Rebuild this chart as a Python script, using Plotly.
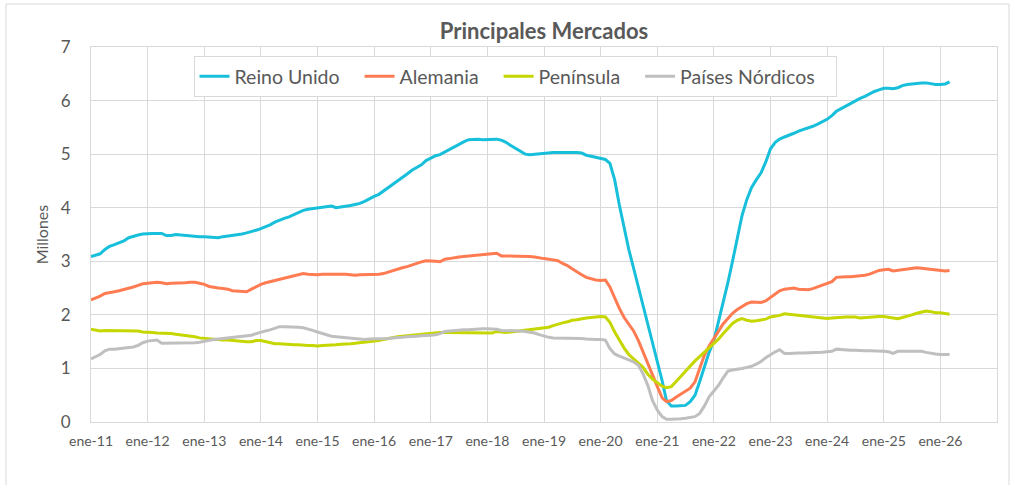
import pandas as pd
import plotly.graph_objects as go

# Monthly series, Jan 2011 .. Mar 2026 (millions)
months = pd.date_range("2011-01-01", periods=183, freq="MS")

reino_unido = [
    3.09, 3.11, 3.14, 3.22, 3.28, 3.31, 3.34, 3.38, 3.44, 3.47, 3.49, 3.51,
    3.52, 3.52, 3.52, 3.52, 3.48, 3.48, 3.50, 3.49, 3.48, 3.47, 3.47, 3.46,
    3.46, 3.45, 3.44, 3.44, 3.46, 3.47, 3.48, 3.49, 3.51, 3.53, 3.55, 3.58,
    3.61, 3.64, 3.68, 3.73, 3.77, 3.80, 3.83, 3.87, 3.91, 3.95, 3.97, 3.98,
    3.99, 4.00, 4.01, 4.03, 4.00, 4.01, 4.02, 4.04, 4.06, 4.08, 4.12, 4.17,
    4.21, 4.25, 4.31, 4.37, 4.43, 4.49, 4.56, 4.63, 4.70, 4.75, 4.80, 4.88,
    4.93, 4.97, 4.99, 5.04, 5.09, 5.14, 5.19, 5.23, 5.27, 5.28, 5.28, 5.27,
    5.27, 5.27, 5.28, 5.26, 5.22, 5.16, 5.11, 5.05, 5.00, 4.99, 5.00, 5.01,
    5.02, 5.02, 5.03, 5.03, 5.03, 5.04, 5.03, 5.03, 5.02, 4.98, 4.96, 4.94,
    4.93, 4.90, 4.83, 4.52, 4.05, 3.62, 3.22, 2.87, 2.52, 2.17, 1.82, 1.47,
    1.12, 0.77, 0.40, 0.30, 0.30, 0.31, 0.31, 0.38, 0.50, 0.75, 1.02, 1.30,
    1.52, 1.88, 2.20, 2.60, 3.00, 3.45, 3.85, 4.15, 4.38, 4.52, 4.65, 4.85,
    5.10, 5.22, 5.28, 5.32, 5.35, 5.39, 5.43, 5.46, 5.48, 5.52, 5.56, 5.61,
    5.65, 5.72, 5.80, 5.85, 5.90, 5.95, 5.99, 6.04, 6.08, 6.13, 6.17, 6.20,
    6.23, 6.23, 6.22, 6.24, 6.28, 6.30, 6.31, 6.33, 6.33, 6.33, 6.31, 6.30,
    6.30, 6.31, 6.35,
]

alemania = [
    2.28, 2.31, 2.35, 2.40, 2.41, 2.43, 2.45, 2.47, 2.50, 2.52, 2.55, 2.58,
    2.59, 2.60, 2.61, 2.60, 2.58, 2.59, 2.59, 2.60, 2.60, 2.61, 2.61, 2.59,
    2.57, 2.53, 2.51, 2.50, 2.49, 2.48, 2.45, 2.44, 2.43, 2.43, 2.48, 2.53,
    2.57, 2.60, 2.62, 2.64, 2.67, 2.69, 2.71, 2.74, 2.76, 2.77, 2.76, 2.75,
    2.75, 2.76, 2.76, 2.76, 2.77, 2.76, 2.76, 2.75, 2.74, 2.75, 2.75, 2.75,
    2.75, 2.76, 2.77, 2.80, 2.83, 2.85, 2.88, 2.90, 2.93, 2.97, 2.99, 3.01,
    3.01, 3.00, 2.99, 3.04, 3.05, 3.07, 3.08, 3.09, 3.10, 3.11, 3.12, 3.13,
    3.14, 3.15, 3.15, 3.10, 3.10, 3.10, 3.10, 3.10, 3.10, 3.09, 3.08, 3.06,
    3.05, 3.04, 3.03, 3.01, 2.96, 2.92, 2.86, 2.80, 2.75, 2.70, 2.67, 2.65,
    2.64, 2.65, 2.52, 2.30, 2.12, 1.95, 1.82, 1.70, 1.52, 1.32, 1.10, 0.88,
    0.66, 0.45, 0.38, 0.40, 0.46, 0.52, 0.57, 0.63, 0.75, 1.00, 1.25, 1.42,
    1.55, 1.70, 1.83, 1.93, 2.03, 2.10, 2.16, 2.21, 2.24, 2.24, 2.23, 2.26,
    2.33, 2.40, 2.45, 2.48, 2.49, 2.50, 2.48, 2.47, 2.47, 2.49, 2.52, 2.56,
    2.58, 2.62, 2.70, 2.71, 2.71, 2.71, 2.72, 2.72, 2.74, 2.76, 2.79, 2.83,
    2.84, 2.85, 2.82, 2.83, 2.84, 2.85, 2.87, 2.88, 2.87, 2.86, 2.84, 2.83,
    2.82, 2.82, 2.83,
]

peninsula = [
    1.73, 1.72, 1.70, 1.71, 1.71, 1.70, 1.71, 1.71, 1.71, 1.70, 1.70, 1.68,
    1.68, 1.67, 1.66, 1.66, 1.65, 1.65, 1.64, 1.63, 1.62, 1.60, 1.59, 1.57,
    1.56, 1.55, 1.55, 1.54, 1.53, 1.53, 1.52, 1.51, 1.51, 1.50, 1.50, 1.52,
    1.52, 1.50, 1.47, 1.46, 1.46, 1.45, 1.45, 1.44, 1.44, 1.43, 1.43, 1.43,
    1.42, 1.43, 1.43, 1.44, 1.44, 1.45, 1.45, 1.46, 1.47, 1.48, 1.49, 1.49,
    1.50, 1.52, 1.54, 1.56, 1.58, 1.59, 1.60, 1.61, 1.62, 1.63, 1.64, 1.65,
    1.66, 1.66, 1.67, 1.67, 1.67, 1.67, 1.66, 1.66, 1.66, 1.66, 1.66, 1.66,
    1.66, 1.66, 1.69, 1.68, 1.67, 1.68, 1.69, 1.70, 1.71, 1.72, 1.73, 1.74,
    1.75, 1.77, 1.80, 1.83, 1.85, 1.87, 1.90, 1.91, 1.93, 1.94, 1.95, 1.96,
    1.97, 1.96, 1.86, 1.68, 1.52, 1.38, 1.26, 1.17, 1.10, 1.02, 0.89, 0.80,
    0.73, 0.67, 0.64, 0.66, 0.75, 0.85, 0.95, 1.05, 1.14, 1.22, 1.30, 1.38,
    1.46, 1.55, 1.65, 1.75, 1.84, 1.90, 1.93, 1.90, 1.88, 1.89, 1.91, 1.92,
    1.96, 1.97, 1.99, 2.02, 2.01, 2.00, 1.99, 1.98, 1.96, 1.95, 1.94, 1.93,
    1.93, 1.94, 1.95, 1.95, 1.96, 1.96, 1.96, 1.94, 1.95, 1.96, 1.97, 1.97,
    1.97, 1.96, 1.95, 1.93, 1.95, 1.97, 2.00, 2.03, 2.05, 2.07, 2.06, 2.04,
    2.04, 2.03, 2.01,
]

nordicos = [
    1.18, 1.22, 1.26, 1.33, 1.36, 1.36, 1.37, 1.37, 1.38, 1.40, 1.43, 1.48,
    1.51, 1.52, 1.53, 1.47, 1.47, 1.47, 1.47, 1.47, 1.47, 1.48, 1.48, 1.49,
    1.51, 1.52, 1.54, 1.55, 1.56, 1.57, 1.58, 1.59, 1.60, 1.61, 1.62, 1.65,
    1.68, 1.70, 1.72, 1.75, 1.78, 1.78, 1.78, 1.78, 1.77, 1.76, 1.74, 1.71,
    1.68, 1.65, 1.62, 1.60, 1.59, 1.58, 1.58, 1.57, 1.56, 1.55, 1.54, 1.55,
    1.55, 1.56, 1.56, 1.56, 1.57, 1.57, 1.58, 1.59, 1.59, 1.60, 1.61, 1.61,
    1.62, 1.63, 1.65, 1.69, 1.70, 1.70, 1.71, 1.72, 1.72, 1.73, 1.73, 1.74,
    1.74, 1.74, 1.73, 1.71, 1.71, 1.70, 1.70, 1.70, 1.69, 1.68, 1.66, 1.63,
    1.60, 1.58, 1.57, 1.57, 1.57, 1.57, 1.56, 1.56, 1.56, 1.55, 1.54, 1.54,
    1.54, 1.53, 1.37, 1.27, 1.23, 1.20, 1.16, 1.12, 1.06, 0.90, 0.68, 0.40,
    0.22, 0.10, 0.05, 0.05, 0.05, 0.06, 0.07, 0.09, 0.10, 0.16, 0.30, 0.47,
    0.58, 0.69, 0.82, 0.95, 0.97, 0.98, 1.00, 1.02, 1.04, 1.08, 1.13, 1.20,
    1.26, 1.31, 1.35, 1.28, 1.28, 1.29, 1.29, 1.29, 1.29, 1.29, 1.29, 1.30,
    1.31, 1.32, 1.36, 1.35, 1.34, 1.34, 1.34, 1.33, 1.33, 1.33, 1.33, 1.32,
    1.32, 1.31, 1.28, 1.32, 1.32, 1.32, 1.32, 1.32, 1.32, 1.30, 1.28, 1.27,
    1.26, 1.26, 1.26,
]

series_names = ["Reino Unido", "Alemania", "Península", "Países Nórdicos"]
series_values = [reino_unido, alemania, peninsula, nordicos]
series_colors = ["#17BFDB", "#FF7B52", "#C6D600", "#BFBFBF"]

tick_dates = pd.date_range("2011-01-01", "2026-01-01", freq="YS")
tick_labels = ["ene-%02d" % (d.year % 100) for d in tick_dates]

FONT = "Lato"
TXT = "#595959"
GRID = "#D9D9D9"
PAD = "\u00a0\u00a0\u00a0"

fig = go.Figure()
for name, vals, col in zip(series_names, series_values, series_colors):
    fig.add_trace(go.Scatter(
        x=months, y=vals, mode="lines", name=name + PAD,
        line=dict(color=col, width=3),
    ))

W, H = 1011, 485
L, R, T, B = 91, 14, 47, 63
pw, ph = W - L - R, H - T - B

def px2paper_x(px):
    return (px - L) / pw

def px2paper_y(py):
    return (H - B - py) / ph

fig.update_layout(
    width=W, height=H,
    margin=dict(l=L, r=R, t=T, b=B, autoexpand=False),
    paper_bgcolor="white", plot_bgcolor="white",
    font=dict(family=FONT, color=TXT),
    title=dict(text="<b>Principales Mercados</b>", x=0.5, xref="paper",
               y=1 - 31 / H, yref="container", yanchor="middle", xanchor="center",
               font=dict(size=22, color=TXT, family=FONT)),
    showlegend=True,
    legend=dict(orientation="h", x=px2paper_x(515), xanchor="center",
                y=px2paper_y(56), yanchor="top",
                bgcolor="white", bordercolor=GRID, borderwidth=1,
                font=dict(size=19.5, color=TXT, family=FONT),
                itemwidth=30, tracegroupgap=0),
    xaxis=dict(
        range=[pd.Timestamp("2011-01-01"), pd.Timestamp("2027-01-01")],
        tickvals=list(tick_dates), ticktext=tick_labels,
        showgrid=True, gridcolor=GRID, gridwidth=1,
        showline=True, linecolor=GRID, linewidth=1, mirror=True,
        ticks="", tickfont=dict(size=14, color=TXT, family=FONT),
        ticklabelstandoff=6, zeroline=False,
    ),
    yaxis=dict(
        range=[0, 7], dtick=1, tick0=0,
        showgrid=True, gridcolor=GRID, gridwidth=1,
        showline=True, linecolor=GRID, linewidth=1, mirror=True,
        ticks="", tickfont=dict(size=17, color=TXT, family=FONT),
        ticklabelstandoff=16, zeroline=False,
        title=dict(text="Millones", font=dict(size=16, color=TXT, family=FONT),
                   standoff=8),
    ),
    shapes=[dict(type="rect", xref="paper", yref="paper",
                 x0=px2paper_x(6), x1=px2paper_x(1009),
                 y0=px2paper_y(492), y1=px2paper_y(4),
                 line=dict(color=GRID, width=1), fillcolor="rgba(0,0,0,0)",
                 layer="below")],
)

fig.write_html("out.html", config={"displayModeBar": False},
               post_script="document.body.style.margin='0px';")
